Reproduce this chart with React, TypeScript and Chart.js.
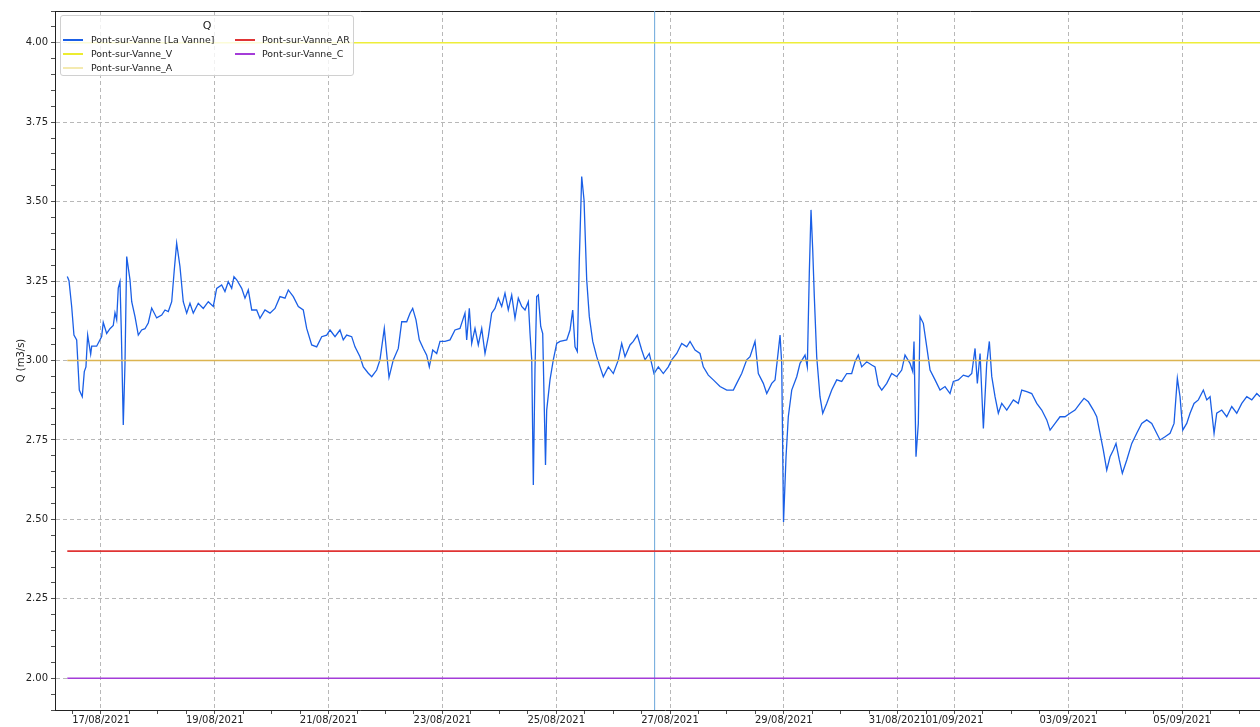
import React, { useEffect, useRef } from 'react';
import { Chart, registerables } from 'chart.js';

Chart.register(...registerables);

// Time in days since 16/08/2021 00:00
const times = [
  0.408, 0.438, 0.485, 0.525, 0.573, 0.619, 0.671, 0.707, 0.736, 0.766,
  0.819, 0.837, 0.924, 1.012, 1.040, 1.100, 1.158, 1.216, 1.246, 1.276,
  1.304, 1.334, 1.357, 1.392, 1.422, 1.452, 1.510, 1.540, 1.598, 1.656,
  1.715, 1.773, 1.831, 1.891, 1.979, 2.067, 2.125, 2.183, 2.243, 2.288,
  2.330, 2.388, 2.446, 2.506, 2.564, 2.622, 2.710, 2.798, 2.886, 2.974,
  3.033, 3.121, 3.179, 3.237, 3.297, 3.337, 3.385, 3.473, 3.531, 3.589,
  3.649, 3.736, 3.794, 3.882, 3.970, 4.058, 4.146, 4.234, 4.292, 4.380,
  4.468, 4.555, 4.615, 4.703, 4.791, 4.879, 4.967, 5.025, 5.113, 5.200,
  5.258, 5.318,
  5.406, 5.464, 5.552, 5.610, 5.698, 5.758, 5.845, 5.903, 5.979, 6.021,
  6.062, 6.137, 6.225, 6.285, 6.373, 6.431, 6.478, 6.536, 6.594, 6.664,
  6.724, 6.770, 6.830, 6.900, 6.958, 7.046, 7.134, 7.221, 7.309, 7.397,
  7.427, 7.473, 7.515, 7.573, 7.631, 7.691, 7.749, 7.807, 7.866, 7.924,
  7.982, 8.042, 8.100, 8.158, 8.218, 8.276, 8.334, 8.394, 8.452, 8.510,
  8.540, 8.570, 8.598, 8.627, 8.657, 8.686, 8.728, 8.763, 8.812, 8.833,
  8.891, 8.949, 9.009, 9.067,
  9.185, 9.243, 9.290, 9.331, 9.371, 9.406, 9.448, 9.489, 9.536, 9.582,
  9.642, 9.712, 9.770, 9.828, 9.916, 10.004, 10.092, 10.151, 10.209, 10.297,
  10.355, 10.426, 10.503, 10.561, 10.636, 10.719, 10.795, 10.882, 10.970, 11.030,
  11.118, 11.206, 11.294, 11.352, 11.440, 11.527, 11.585, 11.673, 11.761, 11.879,
  11.997, 12.113, 12.172, 12.260, 12.348, 12.406, 12.494, 12.552, 12.640, 12.700,
  12.788, 12.846, 12.886, 12.934, 12.963, 12.995,
  13.039, 13.079, 13.139, 13.227, 13.285, 13.373, 13.413, 13.448, 13.478, 13.508,
  13.536, 13.578, 13.636, 13.684, 13.754, 13.842, 13.930, 14.018, 14.106, 14.193,
  14.251, 14.309, 14.369, 14.457, 14.545, 14.603, 14.661, 14.721, 14.809, 14.896,
  14.984, 15.072, 15.130, 15.218, 15.266, 15.288, 15.323, 15.364, 15.394, 15.452,
  15.512, 15.570, 15.658, 15.745, 15.833, 15.921, 15.979, 16.067, 16.155, 16.243,
  16.303, 16.361, 16.401, 16.449, 16.507, 16.566, 16.612, 16.654, 16.712, 16.770,
  16.830, 16.918,
  17.034, 17.121, 17.181, 17.269, 17.357, 17.445, 17.533, 17.621, 17.679, 17.767,
  17.854, 17.942, 18.030, 18.118, 18.206, 18.276, 18.352, 18.440, 18.499, 18.557,
  18.615, 18.675, 18.733, 18.791, 18.838, 18.896, 18.949, 19.027, 19.115, 19.202,
  19.290, 19.378, 19.466, 19.524, 19.612, 19.700, 19.788, 19.858, 19.916, 19.963,
  20.011, 20.081, 20.139, 20.209, 20.285, 20.373, 20.433, 20.491, 20.561, 20.608,
  20.696, 20.784, 20.872, 20.960, 21.048, 21.136, 21.224, 21.312, 21.370,
];

// Q (m3/s) for Pont-sur-Vanne [La Vanne]
const flow = [
  3.264, 3.251, 3.17, 3.08, 3.065, 2.907, 2.886, 2.965, 2.98, 3.08,
  3.02, 3.045, 3.045, 3.075, 3.12, 3.085, 3.10, 3.11, 3.15, 3.128,
  3.228, 3.248, 3.096, 2.797, 2.99, 3.327, 3.254, 3.185, 3.138, 3.08,
  3.096, 3.10, 3.118, 3.165, 3.134, 3.143, 3.159, 3.154, 3.185, 3.285,
  3.369, 3.296, 3.185, 3.149, 3.18, 3.149, 3.18, 3.164, 3.185, 3.17,
  3.227, 3.238, 3.217, 3.248, 3.227, 3.264, 3.254, 3.227, 3.196, 3.222,
  3.159, 3.159, 3.133, 3.159, 3.149, 3.164, 3.201, 3.196, 3.222, 3.201,
  3.17, 3.159, 3.101, 3.049, 3.043, 3.075, 3.08, 3.096, 3.075, 3.096,
  3.065, 3.08,
  3.075, 3.043, 3.012, 2.98, 2.96, 2.949, 2.97, 3.002, 3.101, 3.022,
  2.947, 3.002, 3.038, 3.122, 3.122, 3.149, 3.164, 3.128, 3.065, 3.038,
  3.017, 2.98, 3.033, 3.022, 3.06, 3.06, 3.065, 3.096, 3.101, 3.149,
  3.065, 3.164, 3.054, 3.101, 3.049, 3.101, 3.022, 3.075, 3.149, 3.164,
  3.196, 3.17, 3.212, 3.159, 3.206, 3.133, 3.196, 3.17, 3.159, 3.185,
  3.085, 3.002, 2.608, 2.97, 3.201, 3.206, 3.107, 3.085, 2.671, 2.844,
  2.939, 3.002, 3.054, 3.06,
  3.065, 3.096, 3.159, 3.043, 3.028, 3.317, 3.579, 3.505, 3.254, 3.138,
  3.06, 3.012, 2.98, 2.949, 2.98, 2.959, 3.002, 3.054, 3.012, 3.049,
  3.06, 3.08, 3.033, 3.002, 3.022, 2.959, 2.98, 2.959, 2.98, 3.002,
  3.022, 3.054, 3.043, 3.06, 3.033, 3.022, 2.98, 2.954, 2.939, 2.918,
  2.907, 2.907, 2.928, 2.959, 3.002, 3.012, 3.06, 2.959, 2.928, 2.896,
  2.928, 2.939, 3.002, 3.08, 2.991, 2.492,
  2.697, 2.823, 2.907, 2.949, 2.991, 3.017, 2.98, 3.275, 3.474, 3.348,
  3.201, 3.012, 2.886, 2.834, 2.865, 2.907, 2.939, 2.934, 2.959, 2.959,
  2.996, 3.017, 2.98, 2.996, 2.986, 2.98, 2.923, 2.907, 2.928, 2.959,
  2.949, 2.97, 3.017, 2.991, 2.965, 3.06, 2.697, 2.802, 3.138, 3.117,
  3.043, 2.97, 2.939, 2.907, 2.918, 2.896, 2.934, 2.939, 2.954, 2.949,
  2.959, 3.038, 2.928, 3.022, 2.786, 2.991, 3.06, 2.95, 2.886, 2.834,
  2.865, 2.844,
  2.876, 2.865, 2.907, 2.902, 2.896, 2.865, 2.844, 2.813, 2.781, 2.802,
  2.823, 2.823, 2.834, 2.844, 2.865, 2.881, 2.87, 2.844, 2.823, 2.771,
  2.718, 2.655, 2.697, 2.718, 2.739, 2.687, 2.645, 2.687, 2.739, 2.771,
  2.802, 2.813, 2.802, 2.781, 2.75, 2.76, 2.771, 2.802, 2.944, 2.886,
  2.781, 2.802, 2.834, 2.865, 2.876, 2.907, 2.876, 2.886, 2.771, 2.834,
  2.844, 2.823, 2.855, 2.834, 2.865, 2.886, 2.876, 2.896, 2.886,
];

const seriesName = 'Pont-sur-Vanne [La Vanne]';
const seriesColor = '#1a5fe6';

const thresholdNames = ['Pont-sur-Vanne_V', 'Pont-sur-Vanne_A', 'Pont-sur-Vanne_AR', 'Pont-sur-Vanne_C'];
const thresholdValues = [4.0, 3.0, 2.4, 2.0];
const thresholdColors = ['#eeee3a', '#dcb450', '#e03434', '#a43cd8'];
const thresholdLegendColors = ['#ecec30', '#f4eab0', '#e03434', '#a43cd8'];

const markerTime = 10.73; // 26/08/2021 ~17:30
const markerColor = '#6aa6da';

const xTickDays = [1, 3, 5, 7, 9, 11, 13, 15, 16, 18, 20];
const xTickLabels = [
  '17/08/2021', '19/08/2021', '21/08/2021', '23/08/2021', '25/08/2021', '27/08/2021',
  '29/08/2021', '31/08/2021', '01/09/2021', '03/09/2021', '05/09/2021',
];
const yMajorTicks = [2.0, 2.25, 2.5, 2.75, 3.0, 3.25, 3.5, 3.75, 4.0];

const X_MIN = 0.192;
const X_MAX = 21.632;
const Y_MIN = 1.9;
const Y_MAX = 4.1;

const FONT = "'DejaVu Sans', sans-serif";
const TEXT = '#222222';
const GRID = '#b0b0b0';

const isMajorX = (v: number) => xTickDays.some((d) => Math.abs(d - v) < 1e-6);
const isMajorY = (v: number) => yMajorTicks.some((d) => Math.abs(d - v) < 1e-6);

export default function App() {
  const ref = useRef<HTMLCanvasElement | null>(null);

  useEffect(() => {
    const canvas = ref.current;
    if (!canvas) return;
    const n = Math.min(times.length, flow.length);
    const seriesData: { x: number; y: number }[] = [];
    for (let i = 0; i < n; i++) seriesData.push({ x: times[i], y: flow[i] });
    const t0 = times[0];
    const t1 = times[n - 1];

    const xMinor: number[] = [];
    for (let k = 1; k * 0.5 < X_MAX; k++) xMinor.push(k * 0.5);
    const yMinor: number[] = [];
    for (let k = 0; k <= 44; k++) yMinor.push(Math.round((Y_MIN + k * 0.05) * 100) / 100);

    const thresholdSets = thresholdNames.map((name, i) => ({
      label: name,
      data: [
        { x: t0, y: thresholdValues[i] },
        { x: t1, y: thresholdValues[i] },
      ],
      borderColor: thresholdColors[i],
      backgroundColor: thresholdColors[i],
      borderWidth: 1.6,
      pointRadius: 0,
      tension: 0,
    }));

    const chart = new Chart(canvas, {
      type: 'line',
      data: {
        datasets: [
          ...thresholdSets,
          {
            label: 'marker',
            data: [
              { x: markerTime, y: Y_MIN },
              { x: markerTime, y: Y_MAX },
            ],
            borderColor: markerColor,
            borderWidth: 1,
            pointRadius: 0,
          },
          {
            label: seriesName,
            data: seriesData,
            borderColor: seriesColor,
            backgroundColor: seriesColor,
            borderWidth: 1.3,
            pointRadius: 0,
            tension: 0,
          },
        ],
      },
      options: {
        animation: false,
        responsive: false,
        devicePixelRatio: 1,
        parsing: false,
        normalized: true,
        layout: { padding: { top: 11, left: 0, right: 0, bottom: 0 } },
        plugins: {
          legend: { display: false },
          tooltip: { enabled: false },
          title: { display: false },
        },
        scales: {
          x: {
            type: 'linear',
            position: 'bottom',
            min: X_MIN,
            max: X_MAX,
            afterBuildTicks: (s: any) => {
              s.ticks = xMinor.map((v) => ({ value: v }));
            },
            afterFit: (s: any) => {
              s.height = 17;
            },
            ticks: {
              autoSkip: false,
              maxRotation: 0,
              minRotation: 0,
              padding: 0,
              color: TEXT,
              font: { family: FONT, size: 10 },
              callback: (v: any) => {
                const k = xTickDays.findIndex((d) => Math.abs(d - Number(v)) < 1e-6);
                return k >= 0 ? xTickLabels[k] : '';
              },
            },
            grid: {
              color: (ctx: any) => (ctx.tick && isMajorX(ctx.tick.value) ? GRID : 'rgba(0,0,0,0)'),
              lineWidth: 0.9,
              tickLength: 4,
              tickColor: TEXT,
              tickWidth: 0.8,
            },
            border: { display: true, color: TEXT, width: 1, dash: [4, 3] },
          },
          xTop: {
            type: 'linear',
            position: 'top',
            min: X_MIN,
            max: X_MAX,
            afterFit: (s: any) => {
              s.height = 0;
            },
            ticks: { display: false },
            grid: { display: false, drawTicks: false },
            border: { display: true, color: TEXT, width: 1 },
          },
          y: {
            type: 'linear',
            position: 'left',
            min: Y_MIN,
            max: Y_MAX,
            afterBuildTicks: (s: any) => {
              s.ticks = yMinor.map((v) => ({ value: v }));
            },
            afterFit: (s: any) => {
              s.width = 55;
            },
            ticks: {
              autoSkip: false,
              padding: 3,
              color: TEXT,
              font: { family: FONT, size: 10 },
              callback: (v: any) => (isMajorY(Number(v)) ? Number(v).toFixed(2) : ''),
            },
            grid: {
              color: (ctx: any) => (ctx.tick && isMajorY(ctx.tick.value) ? GRID : 'rgba(0,0,0,0)'),
              lineWidth: 0.9,
              tickLength: 4,
              tickColor: TEXT,
              tickWidth: 0.8,
            },
            border: { display: true, color: TEXT, width: 1, dash: [4, 3] },
            title: {
              display: true,
              text: 'Q (m3/s)',
              color: TEXT,
              font: { family: FONT, size: 10 },
              padding: { top: 15, bottom: 0 },
            },
          },
        },
      } as any,
    });
    return () => chart.destroy();
  }, []);

  const legendCol1 = [
    { name: seriesName, color: seriesColor },
    { name: thresholdNames[0], color: thresholdLegendColors[0] },
    { name: thresholdNames[1], color: thresholdLegendColors[1] },
  ];
  const legendCol2 = [
    { name: thresholdNames[2], color: thresholdLegendColors[2] },
    { name: thresholdNames[3], color: thresholdLegendColors[3] },
  ];
  const rowTops = [24, 37.7, 51.7];

  const entry = (item: { name: string; color: string }, row: number, swatchLeft: number, textLeft: number) => (
    <React.Fragment key={item.name}>
      <div
        style={{
          position: 'absolute',
          left: swatchLeft,
          top: rowTops[row] - 1,
          width: 20,
          height: 2,
          background: item.color,
        }}
      />
      <div
        style={{
          position: 'absolute',
          left: textLeft,
          top: rowTops[row] - 6,
          height: 12,
          lineHeight: '12px',
          fontFamily: FONT,
          fontSize: 9.4,
          color: TEXT,
          whiteSpace: 'nowrap',
        }}
      >
        {item.name}
      </div>
    </React.Fragment>
  );

  return (
    <div
      style={{
        position: 'fixed',
        left: 0,
        top: 0,
        width: 1260,
        height: 727,
        overflow: 'hidden',
        background: '#ffffff',
      }}
    >
      <canvas ref={ref} width={1275} height={727} style={{ display: 'block' }} />
      <div
        style={{
          position: 'absolute',
          left: 60,
          top: 15,
          width: 294,
          height: 61,
          border: '1px solid #d0d0d0',
          borderRadius: 3,
          background: 'rgba(255,255,255,0.8)',
          boxSizing: 'border-box',
        }}
      >
        <div
          style={{
            position: 'absolute',
            left: 0,
            width: '100%',
            top: 3,
            textAlign: 'center',
            fontFamily: FONT,
            fontSize: 11,
            lineHeight: '13px',
            color: TEXT,
          }}
        >
          Q
        </div>
        {legendCol1.map((it, i) => entry(it, i, 2, 30))}
        {legendCol2.map((it, i) => entry(it, i, 174, 201))}
      </div>
    </div>
  );
}
